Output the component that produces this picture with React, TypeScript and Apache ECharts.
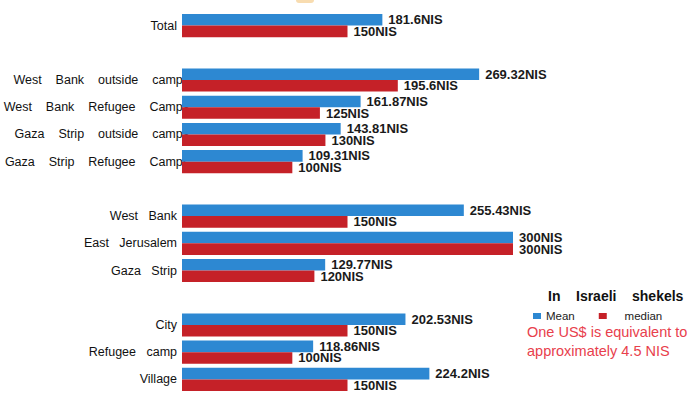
import React, { useEffect, useRef } from "react";
import * as echarts from "echarts";

const categories = [
  "Total",
  "_gap1",
  "West Bank outside camps",
  "West Bank Refugee Camps",
  "Gaza Strip outside camps",
  "Gaza Strip Refugee Camps",
  "_gap2",
  "West Bank",
  "East Jerusalem",
  "Gaza Strip",
  "_gap3",
  "City",
  "Refugee camp",
  "Village",
];

const meanValues = [181.6, null, 269.32, 161.87, 143.81, 109.31, null, 255.43, 300, 129.77, null, 202.53, 118.86, 224.2];
const medianValues = [150, null, 195.6, 125, 130, 100, null, 150, 300, 120, null, 150, 100, 150];

const seriesNames = ["Mean", "median"];
const unitTitle = "In Israeli shekels";
const noteLines = ["One US$ is equivalent to", "approximately 4.5 NIS"];

const BLUE = "#2d88d2";
const RED = "#c52128";
const FONT = "Liberation Sans, Arial, sans-serif";

const spaced = (s: string, n: number) => s.split(" ").join("\u00a0".repeat(n));

export default function App() {
  const ref = useRef<HTMLDivElement>(null);
  useEffect(() => {
    if (!ref.current) return;
    const chart = echarts.init(ref.current, undefined, { renderer: "svg" });
    const labelStyle = {
      show: true,
      position: "right" as const,
      distance: 6,
      fontFamily: FONT,
      fontWeight: "bold" as const,
      fontSize: 13,
      color: "#1a1a1a",
      formatter: (p: any) => p.value + "NIS",
    };
    chart.setOption({
      animation: false,
      backgroundColor: "#ffffff",
      textStyle: { fontFamily: FONT },
      grid: { left: 182, right: 180, top: 12, height: 382 },
      xAxis: {
        type: "value",
        min: 0,
        max: 300,
        show: false,
      },
      yAxis: {
        type: "category",
        inverse: true,
        data: categories,
        axisLine: { show: false },
        axisTick: { show: false },
        splitLine: { show: false },
        axisLabel: {
          margin: -7,
          fontFamily: FONT,
          fontSize: 12.5,
          color: "#111",
          formatter: (v: string) => {
            if (v.startsWith("_gap")) return "";
            return v.length > 15 ? "{l|" + spaced(v, 4) + "}" : "{s|" + spaced(v, 3) + "}";
          },
          rich: {
            l: { fontFamily: FONT, fontSize: 12.5, color: "#111" },
            s: { fontFamily: FONT, fontSize: 12.5, color: "#111", padding: [0, 12, 0, 0] },
          },
        },
      },
      legend: {
        data: seriesNames,
        left: 528,
        top: 305,
        icon: "rect",
        itemWidth: 8,
        itemHeight: 6,
        itemGap: 24,
        formatter: (name: string) => (name === "median" ? "\u00a0\u00a0\u00a0\u00a0" + name : name),
        textStyle: { fontFamily: FONT, fontSize: 11.5, color: "#222" },
      },
      series: [
        {
          name: seriesNames[0],
          type: "bar",
          data: meanValues,
          barGap: "0%",
          barCategoryGap: "15%",
          itemStyle: { color: BLUE },
          label: labelStyle,
        },
        {
          name: seriesNames[1],
          type: "bar",
          data: medianValues,
          itemStyle: { color: RED },
          label: labelStyle,
        },
      ],
      graphic: [
        {
          type: "rect",
          shape: { x: 296, y: -3, width: 18, height: 6, r: 3 },
          style: { fill: "#f8dcb0" },
          silent: true,
        },
        {
          type: "text",
          left: 548,
          top: 289,
          style: {
            text: spaced(unitTitle, 4),
            fontFamily: FONT,
            fontWeight: "bold",
            fontSize: 14,
            fill: "#111",
          },
        },
        {
          type: "text",
          left: 527,
          top: 322,
          style: {
            text: noteLines.join("\n"),
            fontFamily: FONT,
            fontSize: 14.5,
            lineHeight: 19,
            fill: "#e8404c",
          },
        },
      ],
    });
    return () => chart.dispose();
  }, []);
  return (
    <div
      ref={ref}
      style={{ position: "fixed", left: 0, top: 0, width: 693, height: 393, background: "#fff" }}
    />
  );
}
